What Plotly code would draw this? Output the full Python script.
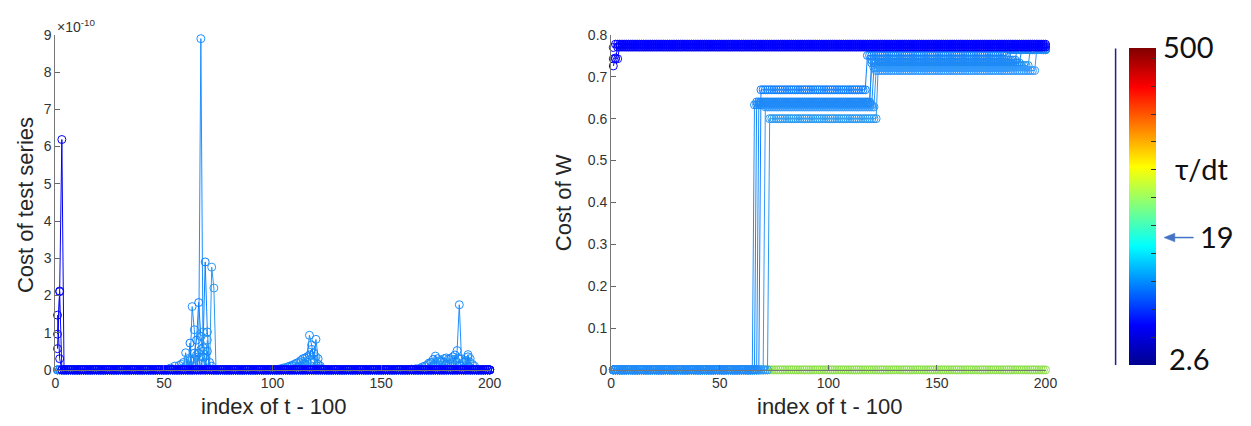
import math
import plotly.graph_objects as go

W, H = 1251, 426
N = 200
t_index = list(range(1, N + 1))
x_ticks = [0, 50, 100, 150, 200]

# ---------------- Left panel: cost of test series (x 1e-10); unlisted indices = 0 -------------
test_dark_a = {1: 0.57, 2: 2.12, 3: 6.19}
test_dark_b = {1: 0.96, 2: 2.10}
test_dark_c = {1: 1.47, 2: 0.30}

test_light_a = {60: 0.46, 63: 1.70, 64: 1.08, 66: 0.35, 67: 8.90, 68: 0.50, 69: 0.20, 70: 0.05,
                105: 0.05, 108: 0.10, 110: 0.15, 112: 0.20, 114: 0.30, 116: 0.35, 117: 0.93,
                118: 0.67, 119: 0.30, 120: 0.82, 121: 0.30, 122: 0.10,
                168: 0.05, 171: 0.12, 173: 0.20, 175: 0.37, 177: 0.25, 179: 0.30, 181: 0.28,
                183: 0.35, 185: 0.52, 186: 1.75, 187: 0.30, 189: 0.25, 190: 0.41, 191: 0.20}
test_light_b = {62: 0.72, 64: 0.45, 65: 0.80, 66: 1.81, 67: 0.90, 68: 0.60, 69: 2.90, 70: 1.02,
                71: 0.20, 104: 0.03, 107: 0.08, 109: 0.12, 111: 0.18, 113: 0.25, 115: 0.32,
                117: 0.40, 118: 0.55, 119: 0.45, 121: 0.15,
                170: 0.10, 172: 0.18, 174: 0.28, 176: 0.30, 178: 0.22, 180: 0.32, 182: 0.30,
                184: 0.40, 186: 0.30, 188: 0.20, 190: 0.35, 192: 0.15}
test_light_c = {58: 0.15, 61: 0.30, 65: 0.40, 67: 0.55, 68: 1.02, 70: 0.80, 72: 2.76, 73: 2.20,
                106: 0.06, 110: 0.10, 113: 0.20, 116: 0.25, 118: 0.20, 120: 0.35, 122: 0.05,
                166: 0.03, 169: 0.08, 172: 0.15, 175: 0.20, 178: 0.25, 181: 0.20, 184: 0.28,
                187: 0.15, 191: 0.30, 193: 0.10}
test_light_d = {53: 0.05, 55: 0.10, 57: 0.12, 59: 0.20, 62: 0.25, 64: 0.30, 66: 0.45, 68: 0.35,
                70: 0.50, 72: 0.10, 103: 0.02, 112: 0.10, 115: 0.15, 119: 0.20,
                164: 0.02, 174: 0.10, 180: 0.15, 186: 0.12, 190: 0.10}

# ---------------- Right panel: cost of W, as runs of (value, count) -------------------------
w_green = [(0.0, 200)]
w_light_a = [(0.0, 65), (0.633, 55), (0.722, 63), (0.765, 17)]
w_light_b = [(0.0, 68), (0.669, 49), (0.751, 65), (0.766, 18)]
w_light_c = [(0.0, 72), (0.600, 50), (0.727, 70), (0.765, 8)]
w_light_d = [(0.0, 66), (0.640, 53), (0.733, 69), (0.765, 12)]
w_light_e = [(0.0, 70), (0.628, 51), (0.715, 74), (0.765, 5)]
w_light_f = [(0.0, 67), (0.637, 52), (0.740, 67), (0.766, 14)]
w_dark_a = [(0.726, 1), (0.743, 1), (0.771, 198)]
w_dark_b = [(0.743, 1), (0.745, 1), (0.743, 1), (0.775, 197)]
w_dark_c = [(0.770, 1), (0.778, 199)]

# colour bar
tau_min, tau_max, tau_mark = 2.6, 500, 19


def from_sparse(d):
    return [d.get(i, 0.0) for i in t_index]


def from_runs(runs):
    out = []
    for v, n in runs:
        out.extend([v] * n)
    return out


DARK = ["#0000f0", "#0a0aff", "#0000ff"]
LIGHT = ["#1e8fff", "#0f80ff", "#2a9af0", "#1a88f5", "#3399ff", "#1f8af8"]
GREEN = "#8ee04c"


def series(y, color, xa, ya):
    return go.Scatter(x=t_index, y=y, mode="lines+markers", xaxis=xa, yaxis=ya,
                      line=dict(color=color, width=1),
                      marker=dict(symbol="circle-open", size=8, color=color, line=dict(width=1)),
                      cliponaxis=False, showlegend=False, hoverinfo="skip")


fig = go.Figure()
# left panel
for d, c in zip([test_light_a, test_light_b, test_light_c, test_light_d], LIGHT):
    fig.add_trace(series(from_sparse(d), c, "x", "y"))
for d, c in zip([test_dark_a, test_dark_b, test_dark_c], DARK):
    fig.add_trace(series(from_sparse(d), c, "x", "y"))
# right panel
fig.add_trace(series(from_runs(w_green), GREEN, "x2", "y2"))
for r, c in zip([w_light_a, w_light_b, w_light_c, w_light_d, w_light_e, w_light_f], LIGHT):
    fig.add_trace(series(from_runs(r), c, "x2", "y2"))
for r, c in zip([w_dark_a, w_dark_b, w_dark_c], DARK):
    fig.add_trace(series(from_runs(r), c, "x2", "y2"))

jet = [[0, "#00008f"], [0.125, "#0000ff"], [0.375, "#00ffff"], [0.625, "#ffff00"],
       [0.875, "#ff0000"], [1, "#800000"]]
cmin, cmax = math.log10(tau_min), math.log10(tau_max)


def px(x):
    return x / W


def py(y):
    return 1 - y / H


cb_top, cb_bot = 42, 371
fig.add_trace(go.Scatter(
    x=[None], y=[None], mode="markers", showlegend=False, hoverinfo="skip",
    marker=dict(color=[cmin], colorscale=jet, cmin=cmin, cmax=cmax, showscale=True,
                colorbar=dict(x=px(1140), xanchor="left", y=py((cb_top + cb_bot) / 2),
                              yanchor="middle", len=(cb_bot - cb_top) / H, lenmode="fraction",
                              thickness=27, thicknessmode="pixels", xpad=0, ypad=0,
                              outlinewidth=0, ticks="inside", ticklen=5, tickcolor="#333333",
                              showticklabels=False, tickmode="linear",
                              tick0=cmin + 0.089 * (cmax - cmin), dtick=0.0879 * (cmax - cmin)))))

axis_font = dict(family="Liberation Sans, Arial, sans-serif", size=14, color="#333333")
common_x = dict(range=[0, 200], tickvals=x_ticks, ticks="inside", ticklen=5, tickcolor="#666666",
                showline=True, linecolor="#777777", linewidth=1, showgrid=False, zeroline=False,
                tickfont=axis_font, fixedrange=True)
common_y = dict(ticks="inside", ticklen=5, tickcolor="#666666", showline=True,
                linecolor="#777777", linewidth=1, showgrid=False, zeroline=False,
                tickfont=axis_font, fixedrange=True)

y_dom = [py(376), py(28)]
fig.update_layout(
    width=W, height=H, margin=dict(l=0, r=0, t=0, b=0),
    paper_bgcolor="white", plot_bgcolor="white",
    xaxis=dict(domain=[px(52), px(492)], anchor="y", **common_x),
    yaxis=dict(domain=y_dom, anchor="x", range=[0, 9], dtick=1, tick0=0, **common_y),
    xaxis2=dict(domain=[px(615), px(1055)], anchor="y2", **common_x),
    yaxis2=dict(domain=y_dom, anchor="x2", range=[0, 0.8], dtick=0.1, tick0=0, **common_y),
)

label_font = dict(family="Liberation Sans, Arial, sans-serif", size=22, color="#262626")
big_font = dict(family="Lato, Calibri, sans-serif", size=29, color="#111111")
ann = [
    dict(text="Cost of test series", x=px(22), y=py(205), textangle=-90, font=label_font),
    dict(text="index of t - 100", x=px(274), y=py(414), font=label_font),
    dict(text="Cost of W", x=px(567), y=py(202), textangle=-90, font=label_font),
    dict(text="index of t - 100", x=px(837), y=py(414), font=label_font),
    dict(text="×10<sup>-10</sup>", x=px(52), y=py(19), xanchor="left",
         font=dict(family="Liberation Sans, Arial, sans-serif", size=14, color="#333333")),
    dict(text="500", x=px(1172), y=py(40), xanchor="left", font=big_font),
    dict(text="τ/dt", x=px(1184), y=py(167), xanchor="left", font=big_font),
    dict(text="19", x=px(1209), y=py(237), xanchor="left", font=big_font),
    dict(text="2.6", x=px(1178), y=py(364), xanchor="left", font=big_font),
]
annotations = []
for a in ann:
    a.setdefault("xanchor", "center")
    annotations.append(dict(xref="paper", yref="paper", yanchor="middle", showarrow=False, **a))
fig.update_layout(annotations=annotations)

# vertical rule left of the colour bar and the arrow pointing at tau/dt = 19
fig.add_shape(type="line", xref="paper", yref="paper", x0=px(1126), x1=px(1126),
              y0=py(cb_top), y1=py(cb_bot), line=dict(color="#1f1f8f", width=1.5))
arrow_y = 238.5
fig.add_shape(type="line", xref="paper", yref="paper", x0=px(1183), x1=px(1205),
              y0=py(arrow_y), y1=py(arrow_y), line=dict(color="#4472c4", width=1.5))
fig.add_shape(type="path", xref="paper", yref="paper",
              path=f"M {px(1175)},{py(arrow_y)} L {px(1186)},{py(arrow_y - 4.5)} "
                   f"L {px(1186)},{py(arrow_y + 4.5)} Z",
              fillcolor="#4472c4", line=dict(color="#4472c4", width=0.5))

fig.write_html("out.html", config={"displayModeBar": False},
               post_script="document.body.style.margin='0';document.body.style.overflow='hidden';")
